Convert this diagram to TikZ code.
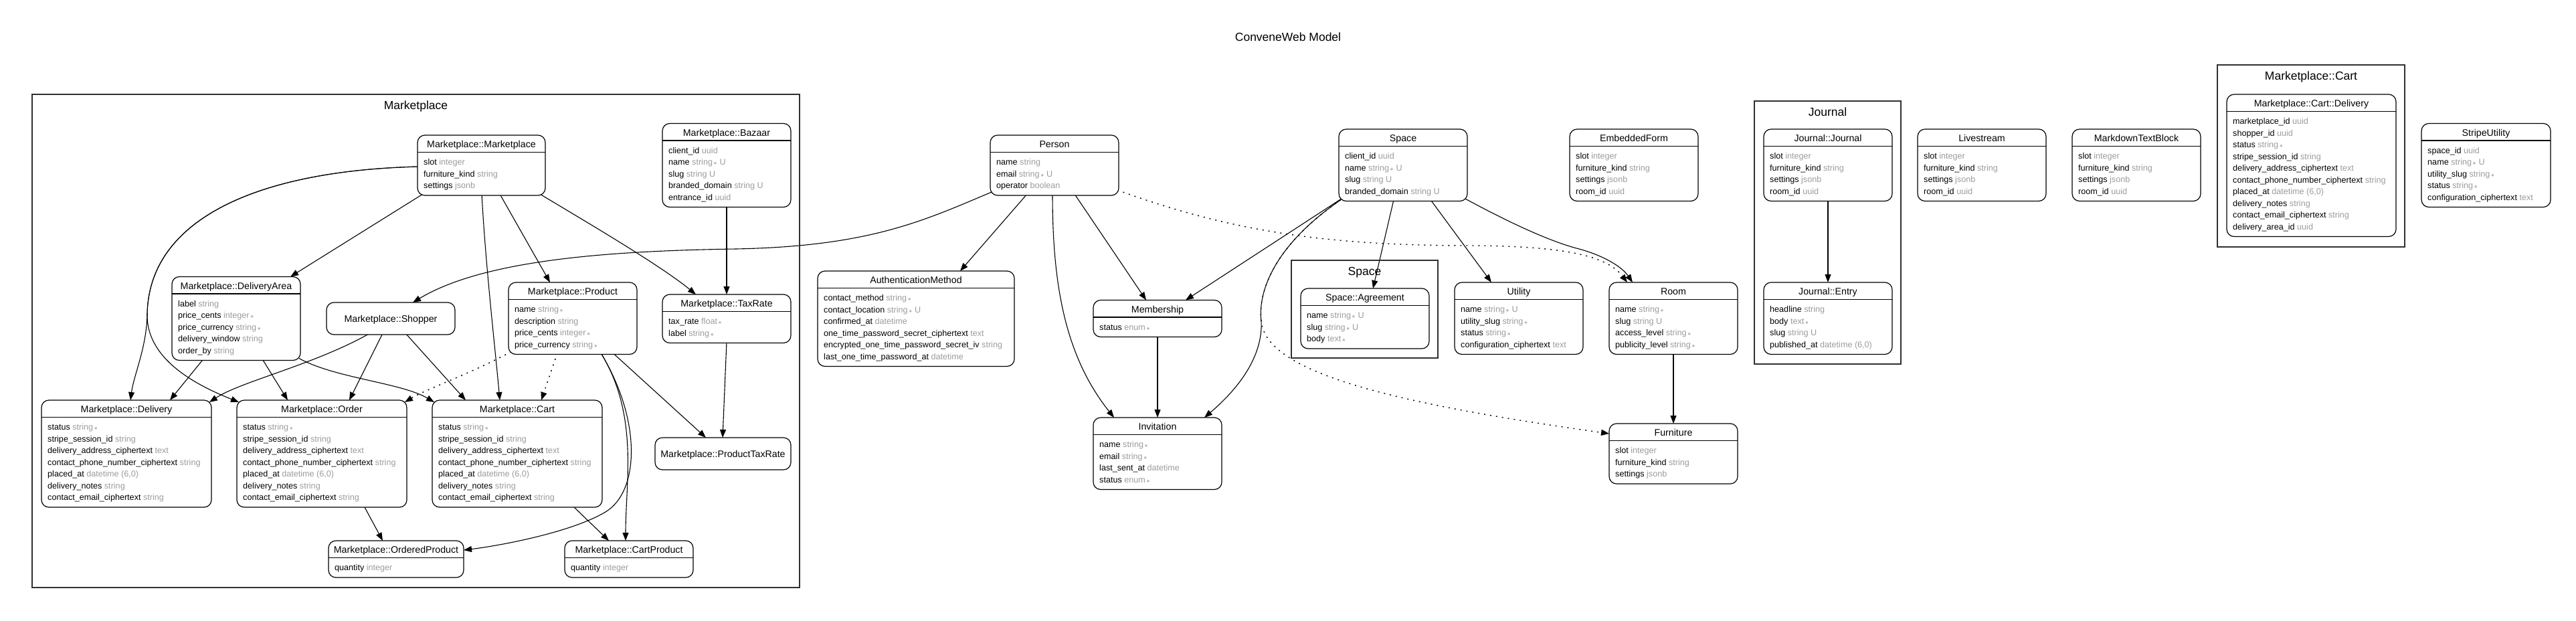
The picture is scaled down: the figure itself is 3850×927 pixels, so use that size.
\documentclass[tikz,border=0pt]{standalone}
\usepackage{fontspec}
\setmainfont{Liberation Sans}
\newfontfamily\dejavu{DejaVu Sans}
\usetikzlibrary{arrows.meta,calc}
\definecolor{tg}{HTML}{9C9C9C}
\definecolor{cl}{HTML}{303030}
\pgfdeclarelayer{bg}
\pgfsetlayers{bg,main}
\newcommand\nn{{\dejavu\fontsize{7}{7}\selectfont\,∗}}
\newcommand\ent[6]{%
  \node[entbox, minimum width=#4pt, minimum height={(37.5+17.5*#5)*1pt}] (#1) at (#2,#3) {};
  \draw[sepline] ([shift={(0,25.5)}]#1.north west) -- ([shift={(0,25.5)}]#1.north east);
  \node[enttitle] at ([shift={(0,18.5)}]#1.north) {#6};
}
\newcommand\one[5]{%
  \node[entbox, minimum width=#4pt, minimum height=48pt] (#1) at (#2,#3) {};
  \node[enttitle] at ([shift={(0,29)}]#1.north) {#5};
}
\newcommand\att[4]{\node[attr] at ([shift={(9,{44.5+17.5*#2})}]#1.north west) {#3 \textcolor{tg}{#4}};}
\newcommand\orderrows[1]{%
  \att{#1}{0}{status}{string\nn}
  \att{#1}{1}{stripe\_session\_id}{string}
  \att{#1}{2}{delivery\_address\_ciphertext}{text}
  \att{#1}{3}{contact\_phone\_number\_ciphertext}{string}
  \att{#1}{4}{placed\_at}{datetime (6,0)}
  \att{#1}{5}{delivery\_notes}{string}
  \att{#1}{6}{contact\_email\_ciphertext}{string}}
\newcommand\furnrows[1]{%
  \att{#1}{0}{slot}{integer}
  \att{#1}{1}{furniture\_kind}{string}
  \att{#1}{2}{settings}{jsonb}
  \att{#1}{3}{room\_id}{uuid}}
\begin{document}
\begin{tikzpicture}[x=1pt,y=-1pt,
  entbox/.style={draw=black, fill=white, line width=1.2pt, rounded corners=11pt, inner sep=0pt, outer sep=0pt, anchor=north west},
  sepline/.style={line width=1.2pt},
  enttitle/.style={font=\fontsize{14.2}{17}\selectfont, inner sep=0pt, anchor=base},
  attr/.style={font=\fontsize{12.6}{15}\selectfont, inner sep=0pt, anchor=base west},
  cluster/.style={draw=cl, line width=1.3pt, inner sep=0pt, outer sep=0pt, anchor=north west},
  clabel/.style={font=\fontsize{17.5}{20}\selectfont, inner sep=0pt, anchor=base},
  edge/.style={line width=1.1pt, -{Triangle[length=12pt,width=9pt]}},
  dotedge/.style={edge, line width=1.4pt, dash pattern=on 2pt off 7pt},
]
\useasboundingbox (0,0) rectangle (3850,927);

\node[clabel] (title) at (1925,61) {ConveneWeb Model};

% clusters
\node[cluster, minimum width=1147pt, minimum height=737pt] (cMkt) at (48,141) {};
\node[clabel] at (621.5,163) {Marketplace};
\node[cluster, minimum width=219pt, minimum height=146pt] (cSpace) at (1930,389) {};
\node[clabel] at (2039.5,411) {Space};
\node[cluster, minimum width=219pt, minimum height=393pt] (cJournal) at (2622,151) {};
\node[clabel] at (2731.5,173) {Journal};
\node[cluster, minimum width=280pt, minimum height=272pt] (cCart) at (3314,97) {};
\node[clabel] at (3454,119) {Marketplace::Cart};

% rank A
\ent{mpm}{624}{202}{191}{3}{Marketplace::Marketplace}
\att{mpm}{0}{slot}{integer}
\att{mpm}{1}{furniture\_kind}{string}
\att{mpm}{2}{settings}{jsonb}

\ent{bazaar}{990}{184.5}{192}{5}{Marketplace::Bazaar}
\att{bazaar}{0}{client\_id}{uuid}
\att{bazaar}{1}{name}{string\nn\ U}
\att{bazaar}{2}{slug}{string U}
\att{bazaar}{3}{branded\_domain}{string U}
\att{bazaar}{4}{entrance\_id}{uuid}

\ent{person}{1480}{202}{192}{3}{Person}
\att{person}{0}{name}{string}
\att{person}{1}{email}{string\nn\ U}
\att{person}{2}{operator}{boolean}

\ent{space}{2001}{193}{192}{4}{Space}
\att{space}{0}{client\_id}{uuid}
\att{space}{1}{name}{string\nn\ U}
\att{space}{2}{slug}{string U}
\att{space}{3}{branded\_domain}{string U}

\ent{emb}{2346}{193}{192}{4}{EmbeddedForm}
\furnrows{emb}
\ent{jj}{2636}{193}{192}{4}{Journal::Journal}
\furnrows{jj}
\ent{live}{2866}{193}{192}{4}{Livestream}
\furnrows{live}
\ent{md}{3097}{193}{192}{4}{MarkdownTextBlock}
\furnrows{md}

\ent{cdel}{3328}{141}{253}{10}{Marketplace::Cart::Delivery}
\att{cdel}{0}{marketplace\_id}{uuid}
\att{cdel}{1}{shopper\_id}{uuid}
\att{cdel}{2}{status}{string\nn}
\att{cdel}{3}{stripe\_session\_id}{string}
\att{cdel}{4}{delivery\_address\_ciphertext}{text}
\att{cdel}{5}{contact\_phone\_number\_ciphertext}{string}
\att{cdel}{6}{placed\_at}{datetime (6,0)}
\att{cdel}{7}{delivery\_notes}{string}
\att{cdel}{8}{contact\_email\_ciphertext}{string}
\att{cdel}{9}{delivery\_area\_id}{uuid}

\ent{stripe}{3619}{184.5}{193}{5}{StripeUtility}
\att{stripe}{0}{space\_id}{uuid}
\att{stripe}{1}{name}{string\nn\ U}
\att{stripe}{2}{utility\_slug}{string\nn}
\att{stripe}{3}{status}{string\nn}
\att{stripe}{4}{configuration\_ciphertext}{text}

% rank B
\ent{darea}{257}{413.5}{192}{5}{Marketplace::DeliveryArea}
\att{darea}{0}{label}{string}
\att{darea}{1}{price\_cents}{integer\nn}
\att{darea}{2}{price\_currency}{string\nn}
\att{darea}{3}{delivery\_window}{string}
\att{darea}{4}{order\_by}{string}

\one{shopper}{488}{452}{192}{Marketplace::Shopper}

\ent{product}{760}{422}{192}{4}{Marketplace::Product}
\att{product}{0}{name}{string\nn}
\att{product}{1}{description}{string}
\att{product}{2}{price\_cents}{integer\nn}
\att{product}{3}{price\_currency}{string\nn}

\ent{taxrate}{990}{440}{192}{2}{Marketplace::TaxRate}
\att{taxrate}{0}{tax\_rate}{float\nn}
\att{taxrate}{1}{label}{string\nn}

\ent{auth}{1222}{405}{294}{6}{AuthenticationMethod}
\att{auth}{0}{contact\_method}{string\nn}
\att{auth}{1}{contact\_location}{string\nn\ U}
\att{auth}{2}{confirmed\_at}{datetime}
\att{auth}{3}{one\_time\_password\_secret\_ciphertext}{text}
\att{auth}{4}{encrypted\_one\_time\_password\_secret\_iv}{string}
\att{auth}{5}{last\_one\_time\_password\_at}{datetime}

\ent{membership}{1634}{448.5}{192}{1}{Membership}
\att{membership}{0}{status}{enum\nn}

\ent{agreement}{1944}{431}{192}{3}{Space::Agreement}
\att{agreement}{0}{name}{string\nn\ U}
\att{agreement}{1}{slug}{string\nn\ U}
\att{agreement}{2}{body}{text\nn}

\ent{utility}{2174}{422}{192}{4}{Utility}
\att{utility}{0}{name}{string\nn\ U}
\att{utility}{1}{utility\_slug}{string\nn}
\att{utility}{2}{status}{string\nn}
\att{utility}{3}{configuration\_ciphertext}{text}

\ent{room}{2405}{422}{192}{4}{Room}
\att{room}{0}{name}{string\nn}
\att{room}{1}{slug}{string U}
\att{room}{2}{access\_level}{string\nn}
\att{room}{3}{publicity\_level}{string\nn}

\ent{jentry}{2636}{422}{192}{4}{Journal::Entry}
\att{jentry}{0}{headline}{string}
\att{jentry}{1}{body}{text\nn}
\att{jentry}{2}{slug}{string U}
\att{jentry}{3}{published\_at}{datetime (6,0)}

% rank C
\ent{delivery}{62}{598}{254}{7}{Marketplace::Delivery}
\orderrows{delivery}
\ent{order}{354}{598}{254}{7}{Marketplace::Order}
\orderrows{order}
\ent{cart}{646}{598}{254}{7}{Marketplace::Cart}
\orderrows{cart}

\one{ptr}{979}{654}{203}{Marketplace::ProductTaxRate}

\ent{invitation}{1634}{624}{192}{4}{Invitation}
\att{invitation}{0}{name}{string\nn}
\att{invitation}{1}{email}{string\nn}
\att{invitation}{2}{last\_sent\_at}{datetime}
\att{invitation}{3}{status}{enum\nn}

\ent{furniture}{2405}{633}{192}{3}{Furniture}
\att{furniture}{0}{slot}{integer}
\att{furniture}{1}{furniture\_kind}{string}
\att{furniture}{2}{settings}{jsonb}

% rank D
\ent{oprod}{491}{808}{202}{1}{Marketplace::OrderedProduct}
\att{oprod}{0}{quantity}{integer}
\ent{cprod}{844}{808}{192}{1}{Marketplace::CartProduct}
\att{cprod}{0}{quantity}{integer}

\begin{pgfonlayer}{bg}
\fill[white] (0,0) rectangle (3850,927);
% Marketplace internals
\draw[edge] ([shift={(8,-2)}]mpm.south west) -- ([shift={(-15,0)}]darea.north east);
\draw[edge] ([shift={(2,47)}]mpm.north west) .. controls (380,255) and (222,330) .. (220,470) .. controls (219,520) and (200,560) .. ([shift={(133,0)}]delivery.north west);
\draw[edge] ([shift={(2,47)}]mpm.north west) .. controls (380,255) and (222,330) .. (220,470) .. controls (219,540) and (300,578) .. ([shift={(3,3)}]order.north west);
\draw[edge] ([shift={(123,-2)}]mpm.south west) -- ([shift={(62,0)}]product.north west);
\draw[edge] ([shift={(-8,-2)}]mpm.south east) .. controls (870,328) and (985,395) .. ([shift={(50,0)}]taxrate.north west);
\draw[edge] ([shift={(96,-2)}]mpm.south west) .. controls (726,400) and (740,520) .. ([shift={(101,0)}]cart.north west);
\draw[edge] ([shift={(0,-2)}]bazaar.south) -- (taxrate.north);
\draw[edge] ([shift={(0,-2)}]taxrate.south) -- ([shift={(101,0)}]ptr.north west);
\draw[edge] ([shift={(-36,-2)}]product.south east) -- ([shift={(76,0)}]ptr.north west);
\draw[edge] ([shift={(138,-2)}]product.south west) .. controls (955,620) and (935,720) .. ([shift={(91,0)}]cprod.north west);
\draw[edge] ([shift={(138,-2)}]product.south west) .. controls (960,630) and (955,735) .. (905,765) .. controls (855,795) and (750,815) .. ([shift={(0,14)}]oprod.north east);
\draw[dotedge] ([shift={(73,-2)}]product.south west) -- ([shift={(163,0)}]cart.north west);
\draw[dotedge] ([shift={(4,-4)}]product.south west) .. controls (700,560) and (640,580) .. ([shift={(-3,3)}]order.north east);
\draw[edge] ([shift={(65,-2)}]shopper.south west) .. controls (470,545) and (360,570) .. ([shift={(-3,3)}]delivery.north east);
\draw[edge] ([shift={(84,-2)}]shopper.south west) -- ([shift={(168,0)}]order.north west);
\draw[edge] ([shift={(118,-2)}]shopper.south west) -- ([shift={(50,0)}]cart.north west);
\draw[edge] ([shift={(47,-2)}]darea.south west) -- ([shift={(192,0)}]delivery.north west);
\draw[edge] ([shift={(135,-2)}]darea.south west) -- ([shift={(76,0)}]order.north west);
\draw[edge] ([shift={(-2,-3)}]darea.south east) .. controls (500,565) and (600,572) .. ([shift={(3,3)}]cart.north west);
\draw[edge] ([shift={(191,0)}]order.south west) -- ([shift={(81,0)}]oprod.north west);
\draw[edge] ([shift={(212,0)}]cart.south west) -- ([shift={(66,0)}]cprod.north west);
% Person
\draw[edge] ([shift={(2,-5)}]person.south west) .. controls (1380,330) and (1300,368) .. (1100,372) .. controls (900,375) and (720,390) .. ([shift={(129,0)}]shopper.north west);
\draw[edge] ([shift={(55,-2)}]person.south west) -- ([shift={(213,0)}]auth.north west);
\draw[edge] ([shift={(126,-2)}]person.south west) -- ([shift={(79,0)}]membership.north west);
\draw[edge] ([shift={(93,-2)}]person.south west) .. controls (1573,420) and (1590,530) .. ([shift={(31,0)}]invitation.north west);
\draw[dotedge] ([shift={(-2,-8)}]person.south east) .. controls (1850,350) and (2000,367) .. (2200,367) .. controls (2330,368) and (2400,380) .. ([shift={(27,0)}]room.north west);
% Space
\draw[edge] ([shift={(3,-3)}]space.south west) -- ([shift={(-54,0)}]membership.north east);
\draw[dotedge] ([shift={(3,-2)}]space.south west) .. controls (1900,370) and (1880,440) .. (1885,480) .. controls (1892,560) and (2100,605) .. ([shift={(0,15)}]furniture.north west);
\draw[edge] ([shift={(3,-2)}]space.south west) .. controls (1900,370) and (1880,440) .. (1885,480) .. controls (1888,540) and (1840,590) .. ([shift={(-26,0)}]invitation.north east);
\draw[edge] ([shift={(82,-2)}]space.south west) -- ([shift={(108,0)}]agreement.north west);
\draw[edge] ([shift={(137,-2)}]space.south west) -- ([shift={(55,0)}]utility.north west);
\draw[edge] ([shift={(-4,-4)}]space.south east) .. controls (2260,335) and (2320,362) .. (2360,372) .. controls (2400,383) and (2425,400) .. ([shift={(35,0)}]room.north west);
\draw[edge] ([shift={(0,-2)}]room.south) -- (furniture.north);
\draw[edge] ([shift={(0,-2)}]jj.south) -- (jentry.north);
\draw[edge] ([shift={(0,-2)}]membership.south) -- (invitation.north);
\end{pgfonlayer}
\end{tikzpicture}
\end{document}
